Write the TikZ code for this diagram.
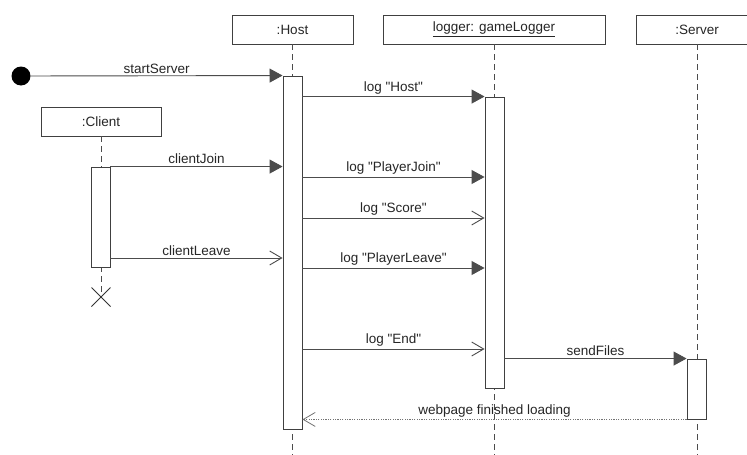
\documentclass[tikz,border=0pt]{standalone}
\usepackage{fontspec}
\newfontfamily\diagfont{Liberation Sans}
\usetikzlibrary{arrows.meta}
\begin{document}
\begin{tikzpicture}[x=1pt,y=-1pt,
  font=\diagfont\fontsize{13.5}{16}\selectfont,
  obj/.style={draw=black!75, fill=white, minimum height=29pt, inner sep=0pt, line width=0.9pt, text=black!85},
  act/.style={draw=black!75, fill=white, minimum width=19pt, inner sep=0pt, line width=0.9pt},
  life/.style={draw=black!70, dash pattern=on 6pt off 4pt, line width=0.9pt},
  msg/.style={draw=black!70, line width=0.9pt, -{Triangle[length=13pt,width=14pt]}},
  amsg/.style={draw=black!70, line width=0.9pt, -{Straight Barb[length=12pt,width=14pt]}},
  ret/.style={draw=black!55, line width=0.8pt, dash pattern=on 1.2pt off 1.2pt, -{Straight Barb[length=12pt,width=14pt]}},
  lbl/.style={midway, above, inner sep=2pt, text=black!85}]
\useasboundingbox (0,0) rectangle (747,455);
\fill[white] (0,0) rectangle (747,455);

% lifeline heads
\node[obj, minimum width=121pt] (host) at (292.5,29.5) {:Host};
\node[obj, minimum width=120pt] (client) at (101,121.5) {:Client};
\node[obj, minimum width=222pt] (logger) at (494,29.5) {\underline{logger: gameLogger}};
\node[obj, minimum width=122pt] (server) at (697,29.5) {:Server};

% helper coordinates
\coordinate (bottom) at (0,455);
\coordinate (xmark) at (101,297);
\coordinate (yCL) at (0,258);
\coordinate (yPJ) at (0,177);
\coordinate (ySc) at (0,218);
\coordinate (yPL) at (0,268);
\coordinate (yEnd) at (0,349);

% lifelines
\draw[life] (host.south) -- (host.south |- bottom);
\draw[life] (logger.south) -- (logger.south |- bottom);
\draw[life] (server.south) -- (server.south |- bottom);
\draw[life] (client.south) -- (xmark);

% activations
\node[act, minimum height=353pt] (hostAct) at (292.5,252.5) {};
\node[act, minimum height=291pt] (loggerAct) at (494.5,242.5) {};
\node[act, minimum height=60pt] (serverAct) at (696.5,389) {};
\node[act, minimum height=100pt] (clientAct) at (100.5,217) {};

% destroy mark
\draw[draw=black!80, line width=0.9pt] ([shift={(-9.5,-9.5)}]xmark) -- ([shift={(9.5,9.5)}]xmark)
  ([shift={(-9.5,9.5)}]xmark) -- ([shift={(9.5,-9.5)}]xmark);

% initial
\node[circle, fill=black, minimum size=19pt, inner sep=0pt] (init) at (21,76) {};

% messages
\draw[msg] (init) -- (hostAct.north west) node[lbl] {startServer};
\draw[msg] (clientAct.north east) -- (hostAct.west |- clientAct.north) node[lbl] {clientJoin};
\draw[amsg] (clientAct.east |- yCL) -- (hostAct.west |- yCL) node[lbl] {clientLeave};
\draw[msg] (hostAct.east |- loggerAct.north) -- (loggerAct.north west) node[lbl] {log "Host"};
\draw[msg] (hostAct.east |- yPJ) -- (loggerAct.west |- yPJ) node[lbl] {log "PlayerJoin"};
\draw[amsg] (hostAct.east |- ySc) -- (loggerAct.west |- ySc) node[lbl] {log "Score"};
\draw[msg] (hostAct.east |- yPL) -- (loggerAct.west |- yPL) node[lbl] {log "PlayerLeave"};
\draw[amsg] (hostAct.east |- yEnd) -- (loggerAct.west |- yEnd) node[lbl] {log "End"};
\draw[msg] (loggerAct.east |- serverAct.north) -- (serverAct.north west) node[lbl] {sendFiles};
\draw[ret] (serverAct.south west) -- (hostAct.east |- serverAct.south) node[lbl] {webpage finished loading};
\end{tikzpicture}
\end{document}
